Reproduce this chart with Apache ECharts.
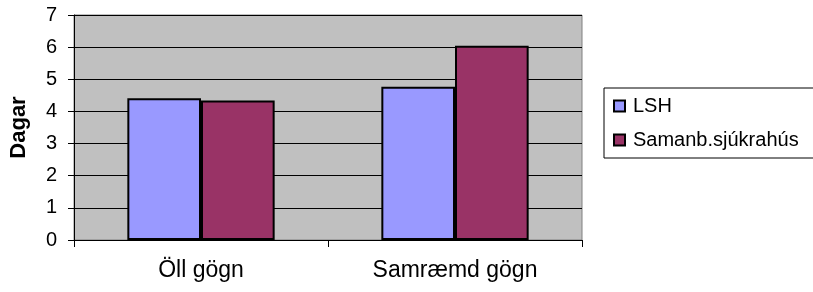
<!DOCTYPE html>
<html>
<head>
<meta charset="utf-8">
<script src="https://cdn.jsdelivr.net/npm/echarts@6/dist/echarts.min.js"></script>
<style>
  html, body { margin: 0; padding: 0; background: #ffffff; }
  #chart { width: 813px; height: 292px; }
</style>
</head>
<body>
<div id="chart"></div>
<script>
  const categories = ['Öll gögn', 'Samræmd gögn']
  const seriesNames = ['LSH', 'Samanb.sjúkrahús']
  const lshValues = [4.41, 4.77]
  const samanbValues = [4.34, 6.04]
  const yTicks = [0, 1, 2, 3, 4, 5, 6, 7]

  const font = 'Liberation Sans, Arial, sans-serif'

  const chart = echarts.init(document.getElementById('chart'), null, { renderer: 'canvas' })

  const option = {
    animation: false,
    backgroundColor: '#ffffff',
    textStyle: { fontFamily: font },
    grid: {
      left: 72,
      right: 231,
      top: 15,
      bottom: 52,
      show: true,
      backgroundColor: '#c0c0c0',
      borderColor: '#808080',
      borderWidth: 1
    },
    legend: {
      orient: 'vertical',
      left: 604,
      top: 88,
      padding: [8, 40, 8, 9],
      itemGap: 14,
      itemWidth: 11,
      itemHeight: 11,
      icon: 'rect',
      backgroundColor: '#ffffff',
      borderColor: '#000000',
      borderWidth: 1,
      borderRadius: 0,
      textStyle: { fontSize: 20, color: '#000000', fontFamily: font, padding: [0, 0, 0, 3] },
      data: seriesNames
    },
    xAxis: {
      type: 'category',
      data: categories,
      axisLine: { show: true, lineStyle: { color: '#000000', width: 1 } },
      axisTick: { show: true, length: 7, lineStyle: { color: '#000000' } },
      axisLabel: { fontSize: 23, color: '#000000', margin: 19, fontFamily: font },
      splitLine: { show: false }
    },
    yAxis: {
      type: 'value',
      min: yTicks[0],
      max: yTicks[yTicks.length - 1],
      interval: 1,
      name: 'Dagar',
      nameLocation: 'middle',
      nameRotate: 90,
      nameGap: 44,
      nameTextStyle: { fontSize: 22, fontWeight: 'bold', color: '#000000', fontFamily: font },
      axisLine: { show: true, lineStyle: { color: '#000000', width: 1 } },
      axisTick: { show: true, length: 6, lineStyle: { color: '#000000' } },
      axisLabel: { fontSize: 20, color: '#000000', margin: 17, fontFamily: font },
      splitLine: { show: true, lineStyle: { color: '#000000', width: 1 } }
    },
    series: [
      {
        name: seriesNames[0],
        type: 'bar',
        data: lshValues,
        barGap: '0%',
        barCategoryGap: '42%',
        itemStyle: { color: '#9999ff', borderColor: '#000000', borderWidth: 2 }
      },
      {
        name: seriesNames[1],
        type: 'bar',
        data: samanbValues,
        barGap: '0%',
        barCategoryGap: '42%',
        itemStyle: { color: '#993366', borderColor: '#000000', borderWidth: 2 }
      }
    ]
  }

  chart.setOption(option)
</script>
</body>
</html>
